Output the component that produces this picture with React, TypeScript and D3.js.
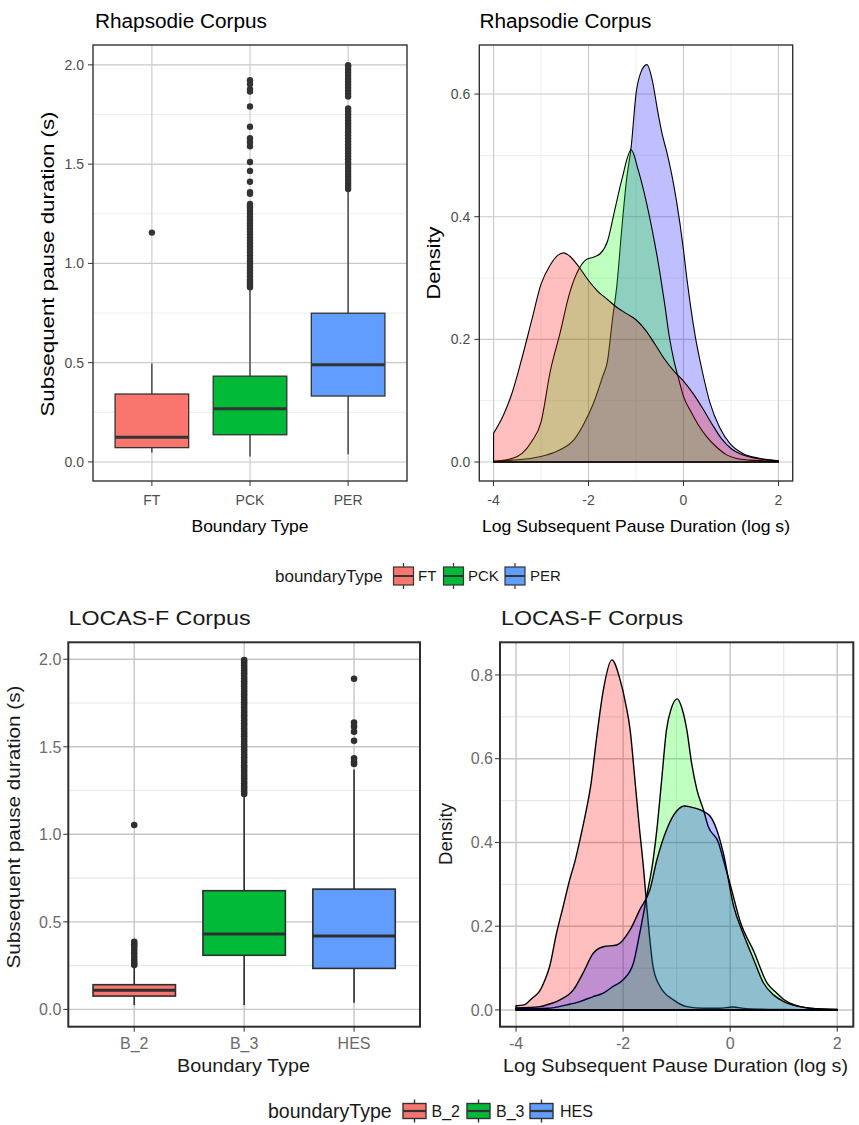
import React from "react";
import * as d3 from "d3";

// ---------------- Rhapsodie corpus ----------------
const rhapCategories = ["FT", "PCK", "PER"];
const rhapLower = [0.047, 0.027, 0.039];
const rhapQ1 = [0.072, 0.137, 0.332];
const rhapMedian = [0.124, 0.268, 0.489];
const rhapQ3 = [0.342, 0.432, 0.749];
const rhapUpper = [0.496, 0.875, 1.36];
const rhapOutFT = [1.155];
const rhapOutPCK = [0.88, 0.89, 0.9, 0.91, 0.92, 0.935, 0.95, 0.965, 0.98, 0.995, 1.01, 1.025, 1.04, 1.055, 1.07, 1.085, 1.1, 1.115, 1.13, 1.145, 1.16, 1.175, 1.19, 1.205, 1.22, 1.235, 1.25, 1.265, 1.28, 1.29, 1.3, 1.351, 1.359, 1.411, 1.466, 1.511, 1.59, 1.61, 1.63, 1.688, 1.79, 1.866, 1.878, 1.903, 1.923];
const rhapOutPER = [1.375, 1.39, 1.405, 1.42, 1.435, 1.45, 1.465, 1.48, 1.495, 1.51, 1.525, 1.54, 1.555, 1.57, 1.585, 1.6, 1.615, 1.63, 1.645, 1.66, 1.675, 1.69, 1.705, 1.72, 1.735, 1.75, 1.765, 1.78, 1.84, 1.855, 1.87, 1.885, 1.9, 1.915, 1.93, 1.945, 1.96, 1.975, 1.99, 1.998];

const rhapDensX_FT = [-4.0, -3.8, -3.6, -3.4, -3.2, -3.0, -2.8, -2.65, -2.52, -2.4, -2.2, -2.0, -1.8, -1.6, -1.4, -1.2, -1.0, -0.8, -0.6, -0.4, -0.2, 0.0, 0.2, 0.4, 0.6, 0.8, 1.0, 1.2, 1.4, 1.6, 1.8, 2.0];
const rhapDensY_FT = [0.047, 0.075, 0.115, 0.17, 0.23, 0.29, 0.322, 0.337, 0.341, 0.336, 0.318, 0.296, 0.278, 0.265, 0.252, 0.242, 0.232, 0.215, 0.192, 0.168, 0.148, 0.132, 0.112, 0.088, 0.062, 0.038, 0.022, 0.013, 0.008, 0.005, 0.003, 0.002];
const rhapDensX_PCK = [-4.0, -3.6, -3.4, -3.2, -3.0, -2.8, -2.6, -2.4, -2.2, -2.05, -1.9, -1.75, -1.6, -1.45, -1.3, -1.1, -0.95, -0.8, -0.65, -0.5, -0.4, -0.3, -0.2, -0.1, 0.0, 0.15, 0.3, 0.5, 0.7, 0.9, 1.1, 1.4, 1.7, 2.0];
const rhapDensY_PCK = [0.001, 0.006, 0.014, 0.033, 0.065, 0.15, 0.21, 0.275, 0.315, 0.33, 0.334, 0.34, 0.36, 0.41, 0.46, 0.509, 0.475, 0.43, 0.375, 0.31, 0.26, 0.205, 0.165, 0.135, 0.107, 0.083, 0.062, 0.04, 0.024, 0.012, 0.006, 0.003, 0.002, 0.001];
const rhapDensX_PER = [-4.0, -3.6, -3.2, -2.9, -2.6, -2.3, -2.1, -1.9, -1.7, -1.6, -1.5, -1.4, -1.3, -1.2, -1.1, -1.0, -0.9, -0.77, -0.65, -0.55, -0.45, -0.35, -0.25, -0.15, 0.0, 0.07, 0.14, 0.25, 0.39, 0.56, 0.77, 0.98, 1.25, 1.6, 2.0];
const rhapDensY_PER = [0.001, 0.003, 0.006, 0.011, 0.02, 0.037, 0.062, 0.095, 0.14, 0.165, 0.23, 0.29, 0.38, 0.46, 0.515, 0.6, 0.635, 0.648, 0.62, 0.575, 0.535, 0.505, 0.47, 0.427, 0.346, 0.3, 0.259, 0.204, 0.15, 0.096, 0.055, 0.03, 0.014, 0.006, 0.002];

// ---------------- LOCAS-F corpus ----------------
const locasCategories = ["B_2", "B_3", "HES"];
const locasLower = [0.025, 0.025, 0.038];
const locasQ1 = [0.076, 0.309, 0.234];
const locasMedian = [0.109, 0.43, 0.419];
const locasQ3 = [0.141, 0.678, 0.687];
const locasUpper = [0.24, 1.22, 1.37];
const locasOutB2 = [0.253, 0.265, 0.282, 0.3, 0.32, 0.339, 0.358, 0.372, 0.386, 1.053];
const locasOutB3 = [1.23, 1.245, 1.26, 1.275, 1.29, 1.305, 1.32, 1.335, 1.35, 1.365, 1.38, 1.395, 1.41, 1.425, 1.44, 1.455, 1.47, 1.485, 1.5, 1.515, 1.53, 1.545, 1.56, 1.575, 1.59, 1.605, 1.62, 1.635, 1.65, 1.665, 1.68, 1.695, 1.71, 1.725, 1.74, 1.755, 1.77, 1.785, 1.8, 1.815, 1.83, 1.845, 1.86, 1.875, 1.89, 1.905, 1.92, 1.935, 1.95, 1.965, 1.98, 1.995];
const locasOutHES = [1.402, 1.415, 1.434, 1.535, 1.586, 1.615, 1.638, 1.889];

const locDensX_B2 = [-4.0, -3.85, -3.7, -3.56, -3.45, -3.37, -3.25, -3.12, -3.0, -2.9, -2.8, -2.7, -2.6, -2.5, -2.37, -2.21, -2.06, -1.95, -1.87, -1.78, -1.7, -1.62, -1.56, -1.5, -1.44, -1.31, -1.06, -0.81, -0.5, -0.2, 0.05, 0.3, 1.0, 2.0];
const locDensY_B2 = [0.01, 0.012, 0.028, 0.045, 0.075, 0.105, 0.18, 0.247, 0.31, 0.355, 0.41, 0.47, 0.54, 0.645, 0.764, 0.836, 0.79, 0.73, 0.67, 0.55, 0.44, 0.34, 0.25, 0.167, 0.103, 0.056, 0.024, 0.008, 0.004, 0.004, 0.007, 0.003, 0.001, 0.0];
const locDensX_B3 = [-4.0, -3.4, -3.06, -2.81, -2.56, -2.37, -2.19, -2.0, -1.81, -1.69, -1.56, -1.44, -1.37, -1.28, -1.19, -1.1, -0.99, -0.9, -0.81, -0.72, -0.62, -0.5, -0.41, -0.22, -0.12, 0.0, 0.19, 0.44, 0.69, 0.87, 1.0, 1.2, 1.5, 2.0];
const locDensY_B3 = [0.003, 0.004, 0.012, 0.02, 0.032, 0.04, 0.056, 0.072, 0.111, 0.183, 0.271, 0.358, 0.43, 0.549, 0.669, 0.72, 0.743, 0.72, 0.669, 0.589, 0.525, 0.478, 0.438, 0.4, 0.355, 0.3, 0.21, 0.14, 0.064, 0.04, 0.025, 0.012, 0.004, 0.001];
const locDensX_HES = [-4.0, -3.56, -3.43, -3.18, -2.93, -2.75, -2.56, -2.37, -2.12, -1.87, -1.69, -1.5, -1.37, -1.19, -1.0, -0.85, -0.75, -0.5, -0.37, -0.25, -0.12, 0.06, 0.25, 0.44, 0.62, 0.81, 1.0, 1.3, 1.6, 2.0];
const locDensY_HES = [0.005, 0.008, 0.012, 0.024, 0.048, 0.088, 0.135, 0.151, 0.155, 0.191, 0.239, 0.287, 0.358, 0.43, 0.475, 0.487, 0.485, 0.474, 0.462, 0.43, 0.37, 0.25, 0.18, 0.12, 0.065, 0.036, 0.02, 0.008, 0.003, 0.001];

// tick labels
const boxYTicks = [0, 0.5, 1, 1.5, 2];
const boxYMinor = [0.25, 0.75, 1.25, 1.75];
const densXTicks = [-4, -2, 0, 2];
const densXMinor = [-3, -1, 1];
const rhapDensYTicks = [0, 0.2, 0.4, 0.6];
const rhapDensYMinor = [0.1, 0.3, 0.5];
const locDensYTicks = [0, 0.2, 0.4, 0.6, 0.8];
const locDensYMinor = [0.1, 0.3, 0.5, 0.7];

const boxFills = ["#F8766D", "#00BA38", "#619CFF"];
const densFills = ["#FF0000", "#00FF00", "#0000FF"];

const FONT = "'Liberation Sans', Arial, Helvetica, sans-serif";

type Style = {
  border: number; major: string; majorW: number; minor: string; minorW: number;
  ink: string; boxW: number; medW: number; r: number; tickFs: number; tickCol: string; tickLen: number;
  lineW: number; labelGap: number; xLabelBase: number;
};

const topStyle: Style = {
  border: 1.4, major: "#c9c9c9", majorW: 1.1, minor: "#ececec", minorW: 0.9,
  ink: "#333333", boxW: 1.3, medW: 3, r: 3.2, tickFs: 14, tickCol: "#4d4d4d", tickLen: 5,
  lineW: 1.1, labelGap: 9, xLabelBase: 505,
};
const botStyle: Style = {
  border: 2, major: "#c6c6c6", majorW: 1.4, minor: "#e8e8e8", minorW: 1.1,
  ink: "#2e2e2e", boxW: 1.6, medW: 3, r: 3.3, tickFs: 16, tickCol: "#6b6b6b", tickLen: 5,
  lineW: 1.4, labelGap: 7, xLabelBase: 1048.5,
};

function fmt1(v: number) {
  return v.toFixed(1);
}

function BoxPanel(p: any) {
  const { left, right, top, bottom, cats, lower, q1, median, q3, upper, outliers, yDomain, s } = p;
  const st: Style = s;
  const x = d3.scalePoint<string>().domain(cats).range([left, right]).padding(0.6);
  const y = d3.scaleLinear().domain(yDomain).range([bottom, top]);
  const bw = x.step() * 0.75;
  return (
    <g>
      {boxYMinor.map((v) => (
        <line key={"mi" + v} x1={left} x2={right} y1={y(v)} y2={y(v)} stroke={st.minor} strokeWidth={st.minorW} />
      ))}
      {boxYTicks.map((v) => (
        <line key={"ma" + v} x1={left} x2={right} y1={y(v)} y2={y(v)} stroke={st.major} strokeWidth={st.majorW} />
      ))}
      {cats.map((c: string) => (
        <line key={"vx" + c} x1={x(c)} x2={x(c)} y1={top} y2={bottom} stroke={st.major} strokeWidth={st.majorW} />
      ))}
      {cats.map((c: string, i: number) => {
        const cx = x(c)!;
        return (
          <g key={"b" + c}>
            {outliers[i].map((v: number, j: number) => (
              <circle key={j} cx={cx} cy={y(v)} r={st.r} fill={st.ink} />
            ))}
            <line x1={cx} x2={cx} y1={y(lower[i])} y2={y(q1[i])} stroke={st.ink} strokeWidth={st.boxW} />
            <line x1={cx} x2={cx} y1={y(q3[i])} y2={y(upper[i])} stroke={st.ink} strokeWidth={st.boxW} />
            <rect x={cx - bw / 2} y={y(q3[i])} width={bw} height={y(q1[i]) - y(q3[i])} fill={boxFills[i]} stroke={st.ink} strokeWidth={st.boxW} />
            <line x1={cx - bw / 2} x2={cx + bw / 2} y1={y(median[i])} y2={y(median[i])} stroke={st.ink} strokeWidth={st.medW} />
          </g>
        );
      })}
      <rect x={left} y={top} width={right - left} height={bottom - top} fill="none" stroke={st.ink} strokeWidth={st.border} />
      {boxYTicks.map((v) => (
        <g key={"yt" + v}>
          <line x1={left - st.tickLen} x2={left} y1={y(v)} y2={y(v)} stroke={st.ink} strokeWidth={1} />
          <text x={left - st.labelGap} y={y(v) + st.tickFs * 0.36} textAnchor="end" fontSize={st.tickFs} fill={st.tickCol} fontFamily={FONT}>
            {fmt1(v)}
          </text>
        </g>
      ))}
      {cats.map((c: string) => (
        <g key={"xt" + c}>
          <line x1={x(c)} x2={x(c)} y1={bottom} y2={bottom + st.tickLen} stroke={st.ink} strokeWidth={1} />
          <text x={x(c)} y={st.xLabelBase} textAnchor="middle" fontSize={st.tickFs} fill={st.tickCol} fontFamily={FONT}>
            {c}
          </text>
        </g>
      ))}
    </g>
  );
}

function DensityPanel(p: any) {
  const { left, right, top, bottom, yDomain, yTicks, yMinor, series, s } = p;
  const st: Style = s;
  const x = d3.scaleLinear().domain([-4.3, 2.3]).range([left, right]);
  const y = d3.scaleLinear().domain(yDomain).range([bottom, top]);
  const area = d3
    .area<[number, number]>()
    .x((d) => x(d[0]))
    .y0(y(0))
    .y1((d) => y(d[1]))
    .curve(d3.curveMonotoneX);
  return (
    <g>
      {yMinor.map((v: number) => (
        <line key={"ym" + v} x1={left} x2={right} y1={y(v)} y2={y(v)} stroke={st.minor} strokeWidth={st.minorW} />
      ))}
      {densXMinor.map((v) => (
        <line key={"xm" + v} x1={x(v)} x2={x(v)} y1={top} y2={bottom} stroke={st.minor} strokeWidth={st.minorW} />
      ))}
      {yTicks.map((v: number) => (
        <line key={"yM" + v} x1={left} x2={right} y1={y(v)} y2={y(v)} stroke={st.major} strokeWidth={st.majorW} />
      ))}
      {densXTicks.map((v) => (
        <line key={"xM" + v} x1={x(v)} x2={x(v)} y1={top} y2={bottom} stroke={st.major} strokeWidth={st.majorW} />
      ))}
      {series.map((sr: any, i: number) => {
        const pts: [number, number][] = sr.xs.map((xv: number, k: number) => [xv, sr.ys[k]]);
        return (
          <path key={"d" + i} d={area(pts) || ""} fill={sr.fill} fillOpacity={0.25} stroke="#000" strokeWidth={st.lineW} strokeLinejoin="round" />
        );
      })}
      <rect x={left} y={top} width={right - left} height={bottom - top} fill="none" stroke={st.ink} strokeWidth={st.border} />
      {yTicks.map((v: number) => (
        <g key={"yt" + v}>
          <line x1={left - st.tickLen} x2={left} y1={y(v)} y2={y(v)} stroke={st.ink} strokeWidth={1} />
          <text x={left - st.labelGap} y={y(v) + st.tickFs * 0.36} textAnchor="end" fontSize={st.tickFs} fill={st.tickCol} fontFamily={FONT}>
            {fmt1(v)}
          </text>
        </g>
      ))}
      {densXTicks.map((v) => (
        <g key={"xt" + v}>
          <line x1={x(v)} x2={x(v)} y1={bottom} y2={bottom + st.tickLen} stroke={st.ink} strokeWidth={1} />
          <text x={x(v)} y={st.xLabelBase} textAnchor="middle" fontSize={st.tickFs} fill={st.tickCol} fontFamily={FONT}>
            {String(v)}
          </text>
        </g>
      ))}
    </g>
  );
}

function LegendKey(p: any) {
  const { x, cy, w, h, fill, ink, lw } = p;
  const cx = x + w / 2;
  return (
    <g>
      <line x1={cx} x2={cx} y1={cy - h / 2 - 4} y2={cy + h / 2 + 4} stroke={ink} strokeWidth={lw} />
      <rect x={x} y={cy - h / 2} width={w} height={h} fill={fill} stroke={ink} strokeWidth={lw} />
      <line x1={x} x2={x + w} y1={cy} y2={cy} stroke={ink} strokeWidth={lw * 1.6} />
    </g>
  );
}

function Legend(p: any) {
  const { titleX, cy, titleFs, labelFs, labels, keyXs, labelXs, keyW, keyH, ink, lw, col } = p;
  return (
    <g fontFamily={FONT}>
      <text x={titleX} y={cy + titleFs * 0.36} fontSize={titleFs} fill="#1a1a1a">
        boundaryType
      </text>
      {labels.map((l: string, i: number) => (
        <g key={l}>
          <LegendKey x={keyXs[i]} cy={cy} w={keyW} h={keyH} fill={boxFills[i]} ink={ink} lw={lw} />
          <text x={labelXs[i]} y={cy + labelFs * 0.36} fontSize={labelFs} fill={col}>
            {l}
          </text>
        </g>
      ))}
    </g>
  );
}

export default function App() {
  const rhapSeries = [
    { xs: rhapDensX_PER, ys: rhapDensY_PER, fill: densFills[2] },
    { xs: rhapDensX_PCK, ys: rhapDensY_PCK, fill: densFills[1] },
    { xs: rhapDensX_FT, ys: rhapDensY_FT, fill: densFills[0] },
  ];
  const locSeries = [
    { xs: locDensX_B2, ys: locDensY_B2, fill: densFills[0] },
    { xs: locDensX_B3, ys: locDensY_B3, fill: densFills[1] },
    { xs: locDensX_HES, ys: locDensY_HES, fill: densFills[2] },
  ];
  return (
    <svg width={859} height={1125} viewBox="0 0 859 1125" style={{ position: "absolute", left: 0, top: 0, background: "#fff" }} fontFamily={FONT}>
      <rect x={0} y={0} width={859} height={1125} fill="#fff" />

      {/* Top row */}
      <text x={95} y={28} fontSize={20} fill="#000" textLength={172} lengthAdjust="spacingAndGlyphs">Rhapsodie Corpus</text>
      <text x={479.5} y={28} fontSize={20} fill="#000" textLength={172} lengthAdjust="spacingAndGlyphs">Rhapsodie Corpus</text>

      <BoxPanel left={93} right={407} top={45} bottom={481} cats={rhapCategories} lower={rhapLower} q1={rhapQ1}
        median={rhapMedian} q3={rhapQ3} upper={rhapUpper} outliers={[rhapOutFT, rhapOutPCK, rhapOutPER]}
        yDomain={[-0.096, 2.1]} s={topStyle} />
      <DensityPanel left={479.3} right={792.7} top={45} bottom={481} yDomain={[-0.031, 0.68]}
        yTicks={rhapDensYTicks} yMinor={rhapDensYMinor} series={rhapSeries} s={topStyle} />

      <text x={250} y={531.5} fontSize={17} textAnchor="middle" fill="#000" textLength={117} lengthAdjust="spacingAndGlyphs">Boundary Type</text>
      <text x={636} y={531.5} fontSize={17} textAnchor="middle" fill="#000" textLength={308} lengthAdjust="spacingAndGlyphs">Log Subsequent Pause Duration (log s)</text>
      <text transform="translate(54,264) rotate(-90)" fontSize={18} textAnchor="middle" fill="#000" textLength={305} lengthAdjust="spacingAndGlyphs">Subsequent pause duration (s)</text>
      <text transform="translate(440,263) rotate(-90)" fontSize={18} textAnchor="middle" fill="#000" textLength={73} lengthAdjust="spacingAndGlyphs">Density</text>

      <Legend titleX={275} cy={576} titleFs={17} labelFs={15} labels={rhapCategories}
        keyXs={[393.5, 443.5, 505]} labelXs={[418, 468, 530]} keyW={20} keyH={18} ink="#333" lw={1.2} col="#1a1a1a" />

      {/* Bottom row */}
      <text x={68.5} y={625} fontSize={19.5} fill="#1a1a1a" textLength={182} lengthAdjust="spacingAndGlyphs">LOCAS-F Corpus</text>
      <text x={501} y={625} fontSize={19.5} fill="#1a1a1a" textLength={182} lengthAdjust="spacingAndGlyphs">LOCAS-F Corpus</text>

      <BoxPanel left={68.3} right={420} top={642.3} bottom={1026.7} cats={locasCategories} lower={locasLower} q1={locasQ1}
        median={locasMedian} q3={locasQ3} upper={locasUpper} outliers={[locasOutB2, locasOutB3, locasOutHES]}
        yDomain={[-0.099, 2.097]} s={botStyle} />
      <DensityPanel left={500} right={853.3} top={642.3} bottom={1026.7} yDomain={[-0.04, 0.878]}
        yTicks={locDensYTicks} yMinor={locDensYMinor} series={locSeries} s={botStyle} />

      <text x={243.5} y={1071.5} fontSize={18.5} textAnchor="middle" fill="#1a1a1a" textLength={133} lengthAdjust="spacingAndGlyphs">Boundary Type</text>
      <text x={675.5} y={1071.5} fontSize={18.5} textAnchor="middle" fill="#1a1a1a" textLength={345} lengthAdjust="spacingAndGlyphs">Log Subsequent Pause Duration (log s)</text>
      <text transform="translate(20,827) rotate(-90)" fontSize={17.5} textAnchor="middle" fill="#1a1a1a" textLength={283} lengthAdjust="spacingAndGlyphs">Subsequent pause duration (s)</text>
      <text transform="translate(452,834) rotate(-90)" fontSize={17.5} textAnchor="middle" fill="#1a1a1a" textLength={62} lengthAdjust="spacingAndGlyphs">Density</text>

      <Legend titleX={268} cy={1111} titleFs={19.5} labelFs={16} labels={locasCategories}
        keyXs={[403, 467, 530]} labelXs={[431.5, 496, 560]} keyW={23} keyH={15} ink="#333" lw={1.4} col="#1a1a1a" />
    </svg>
  );
}
